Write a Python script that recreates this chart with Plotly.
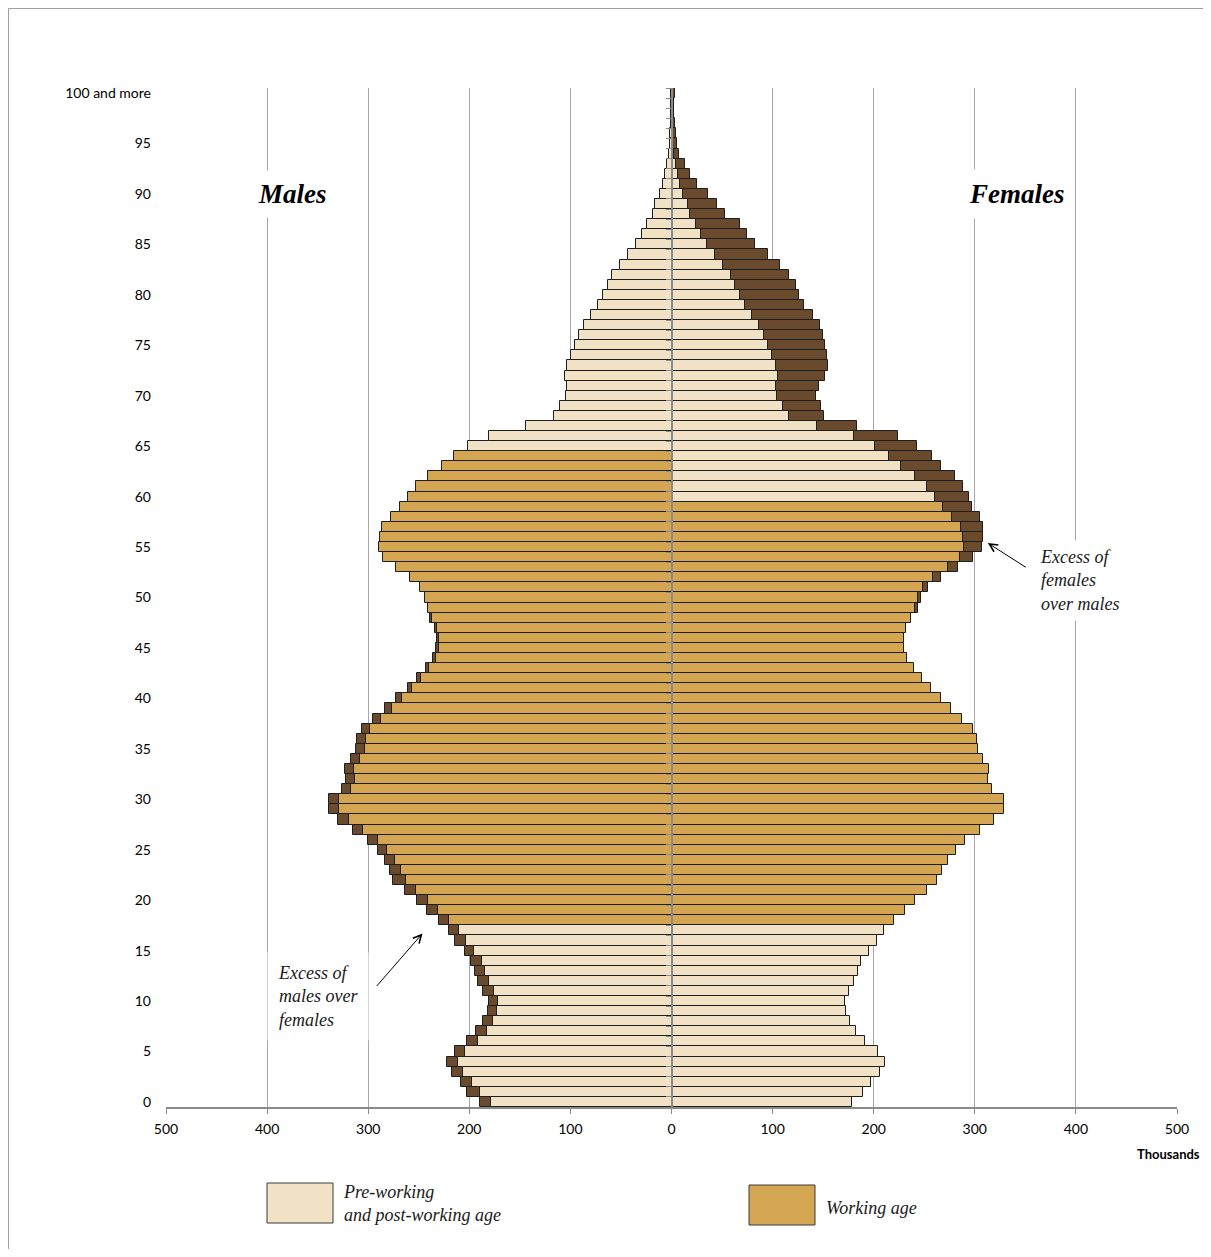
import plotly.graph_objects as go

# ---------------- data (thousands of persons, by single year of age) ----------------
ages = list(range(101))

males = [189.2, 202.5, 208.0, 217.3, 222.2, 213.9, 202.1, 192.9, 186.9, 182.0,
         181.0, 186.0, 191.6, 194.5, 198.5, 204.7, 214.3, 219.9, 229.5, 242.0,
         251.6, 263.4, 275.0, 278.9, 283.6, 290.5, 300.0, 315.2, 329.4, 339.0,
         339.0, 325.7, 321.5, 323.4, 317.5, 311.9, 310.6, 306.0, 295.4, 283.6,
         273.0, 260.8, 251.6, 243.3, 236.0, 232.8, 231.8, 233.7, 238.7, 241.0,
         243.6, 248.3, 258.8, 273.0, 284.9, 289.5, 288.2, 285.9, 277.6, 268.4,
         260.8, 252.9, 241.0, 227.2, 215.0, 200.8, 180.7, 144.4, 116.0, 110.1,
         104.2, 103.5, 105.5, 103.2, 99.6, 95.0, 91.7, 86.7, 80.1, 72.9,
         67.9, 63.0, 58.7, 51.4, 43.2, 34.9, 29.4, 24.4, 18.5, 16.2,
         11.2, 8.2, 6.9, 4.5, 2.5, 1.8, 1.2, 0.8, 0.6, 0.5,
         0.5]

females = [178.3, 189.9, 197.5, 206.4, 211.4, 204.0, 191.6, 182.7, 176.7, 172.8,
           171.4, 176.0, 180.7, 184.0, 187.9, 194.9, 203.1, 210.4, 219.6, 231.1,
           240.7, 252.5, 263.1, 267.8, 273.7, 281.5, 290.0, 305.2, 319.2, 329.0,
           329.0, 316.7, 313.2, 314.4, 308.5, 303.0, 302.6, 298.0, 287.5, 276.8,
           266.2, 256.7, 247.3, 239.4, 233.0, 230.0, 230.0, 232.2, 237.1, 243.6,
           247.0, 254.0, 266.7, 283.2, 298.7, 307.0, 308.0, 308.0, 304.7, 297.4,
           294.1, 288.8, 280.9, 266.7, 257.5, 243.0, 224.2, 183.3, 151.0, 148.0,
           143.1, 145.7, 152.3, 155.0, 153.6, 152.3, 150.0, 146.4, 139.8, 131.2,
           126.6, 122.7, 116.7, 107.8, 95.9, 82.8, 74.5, 67.6, 53.4, 45.2,
           35.9, 25.0, 18.1, 13.2, 7.5, 5.0, 4.0, 3.0, 2.5, 2.5,
           3.5]

male_working_ages = (18, 64)
female_working_ages = (18, 59)

x_tick_values = [-500, -400, -300, -200, -100, 0, 100, 200, 300, 400, 500]
x_tick_labels = ["500", "400", "300", "200", "100", "0", "100", "200", "300", "400", "500"]
y_tick_values = list(range(0, 101, 5))
y_tick_labels = [str(a) for a in range(0, 100, 5)] + ["100 and more"]

# ---------------- styling ----------------
LIGHT = "#F2E2C5"
WORK = "#D5A652"
DARK = "#6A4A2C"
OUTLINE = "#1E1E1E"
GRID = "#A6A6A6"
AXIS = "#8A8A8A"
SERIF = "Liberation Serif"
SANS = "Lato"

base = [min(m, f) for m, f in zip(males, females)]
male_excess = [(m - f) if m > f else None for m, f in zip(males, females)]
female_excess = [(f - m) if f > m else None for m, f in zip(males, females)]

male_colors = [WORK if male_working_ages[0] <= a <= male_working_ages[1] else LIGHT for a in ages]
female_colors = [WORK if female_working_ages[0] <= a <= female_working_ages[1] else LIGHT for a in ages]

fig = go.Figure()
line = dict(color=OUTLINE, width=1)
fig.add_trace(go.Bar(y=ages, x=[-b for b in base], orientation="h",
                     marker=dict(color=male_colors, line=line), name="Males",
                     showlegend=False, hoverinfo="skip"))
fig.add_trace(go.Bar(y=ages, x=[(-e if e is not None else None) for e in male_excess],
                     orientation="h", marker=dict(color=DARK, line=line),
                     name="Excess of males", showlegend=False, hoverinfo="skip"))
fig.add_trace(go.Bar(y=ages, x=base, orientation="h",
                     marker=dict(color=female_colors, line=line), name="Females",
                     showlegend=False, hoverinfo="skip"))
fig.add_trace(go.Bar(y=ages, x=female_excess, orientation="h",
                     marker=dict(color=DARK, line=line),
                     name="Excess of females", showlegend=False, hoverinfo="skip"))
# invisible trace to carry the central age axis
fig.add_trace(go.Scatter(x=[0], y=[0], yaxis="y2", mode="markers",
                         marker=dict(opacity=0), showlegend=False, hoverinfo="skip"))

# page has an 8px body margin: figure origin sits at (8, 8) in the window
OFF = 8
W, H = 1211 - 2 * OFF, 1257 - 2 * OFF
PLOT_L, PLOT_R, PLOT_T, PLOT_B = 166, 1177, 88, 1107   # absolute window pixels
PW, PH = PLOT_R - PLOT_L, PLOT_B - PLOT_T
L, T = PLOT_L - OFF, PLOT_T - OFF
R, B = W - L - PW, H - T - PH


def px(xp):
    return (xp - PLOT_L) / PW


def py(yp):
    return (PLOT_B - yp) / PH


fig.update_layout(
    width=W, height=H,
    margin=dict(l=L, r=R, t=T, b=B, pad=0),
    paper_bgcolor="white", plot_bgcolor="white",
    barmode="relative", bargap=0,
    hovermode=False,
    xaxis=dict(range=[-500, 500], tickvals=x_tick_values, ticktext=x_tick_labels,
               showgrid=True, gridcolor=GRID, gridwidth=1, zeroline=False,
               showline=True, linecolor=AXIS, linewidth=2,
               ticks="outside", ticklen=5, tickcolor=AXIS, tickwidth=1,
               ticklabelstandoff=3,
               tickfont=dict(family=SANS, size=14, color="#000000"),
               fixedrange=True),
    yaxis=dict(range=[-0.5, 100.5], tickvals=y_tick_values, ticktext=y_tick_labels,
               showgrid=False, zeroline=False, showline=False, ticks="",
               ticklabelstandoff=14,
               tickfont=dict(family=SANS, size=14, color="#000000"),
               fixedrange=True),
    yaxis2=dict(range=[-0.5, 100.5], overlaying="y", anchor="free", position=0.5,
                side="left", showgrid=False, zeroline=False, showline=True,
                linecolor=AXIS, linewidth=2, ticks="outside", ticklen=5,
                tickcolor=AXIS, tickwidth=1,
                tickvals=[a - 0.5 for a in ages] + [100.5],
                showticklabels=False, fixedrange=True),
)

annotations = [
    dict(x=-375, y=90, xref="x", yref="y", text="<b><i>Males</i></b>", showarrow=False,
         font=dict(family=SERIF, size=27, color="#000000"), bgcolor="white", borderpad=8),
    dict(x=342, y=90, xref="x", yref="y", text="<b><i>Females</i></b>", showarrow=False,
         font=dict(family=SERIF, size=27, color="#000000"), bgcolor="white", borderpad=9),
    dict(x=358, y=51.7, xref="x", yref="y", xanchor="left", align="left",
         text="<i>Excess of<br>females<br>over males</i>", showarrow=False,
         font=dict(family=SERIF, size=18, color="#1a1a1a"), bgcolor="white", borderpad=6),
    dict(x=-400, y=10.45, xref="x", yref="y", xanchor="left", align="left",
         text="<i>Excess of<br>males over<br>females</i>", showarrow=False,
         font=dict(family=SERIF, size=18, color="#1a1a1a"), bgcolor="white", borderpad=10),
    # arrows
    dict(x=-246.3, y=16.7, xref="x", yref="y", ax=-292.8, ay=11.35, axref="x", ayref="y",
         text="", showarrow=True, arrowhead=5, arrowsize=1.6, arrowwidth=1, arrowcolor="#000000"),
    dict(x=312.9, y=55.4, xref="x", yref="y", ax=351.9, ay=52.9, axref="x", ayref="y",
         text="", showarrow=True, arrowhead=5, arrowsize=1.6, arrowwidth=1, arrowcolor="#000000"),
    # axis unit
    dict(x=px(1202), y=py(1154), xref="paper", yref="paper", xanchor="right", yanchor="middle",
         text="<b>Thousands</b>", showarrow=False, font=dict(family=SANS, size=13, color="#000000")),
    # legend texts
    dict(x=px(341), y=py(1203), xref="paper", yref="paper", xanchor="left", yanchor="middle",
         align="left", text="<i>Pre-working<br>and post-working age</i>", showarrow=False,
         font=dict(family=SERIF, size=18, color="#1a1a1a")),
    dict(x=px(824), y=py(1208), xref="paper", yref="paper", xanchor="left", yanchor="middle",
         align="left", text="<i>Working age</i>", showarrow=False,
         font=dict(family=SERIF, size=18, color="#1a1a1a")),
]
fig.update_layout(annotations=annotations)

shapes = [
    # legend swatches
    dict(type="rect", xref="paper", yref="paper", x0=px(267), x1=px(333), y0=py(1223), y1=py(1183),
         fillcolor=LIGHT, line=dict(color="#3a3a3a", width=1)),
    dict(type="rect", xref="paper", yref="paper", x0=px(749), x1=px(815), y0=py(1225), y1=py(1185),
         fillcolor=WORK, line=dict(color="#3a3a3a", width=1)),
    # outer frame (left and top edges visible)
    dict(type="line", xref="paper", yref="paper", x0=px(8.5), x1=px(8.5), y0=py(8.5), y1=py(1260),
         line=dict(color="#A0A0A0", width=1)),
    dict(type="line", xref="paper", yref="paper", x0=px(8.5), x1=px(1215), y0=py(8.5), y1=py(8.5),
         line=dict(color="#A0A0A0", width=1)),
]
fig.update_layout(shapes=shapes)

fig.write_html("out.html")
